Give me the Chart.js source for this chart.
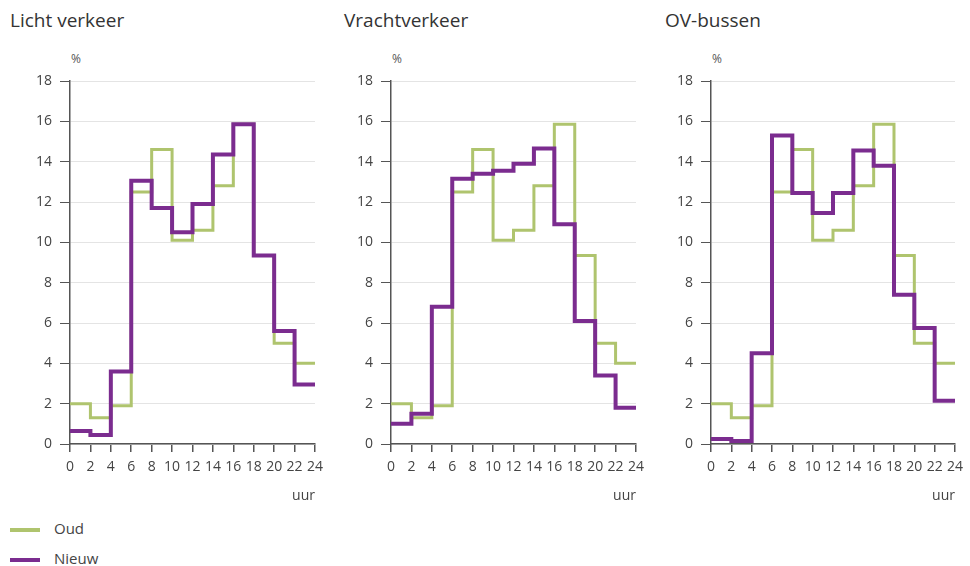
<!DOCTYPE html>
<html>
<head>
<meta charset="utf-8">
<script src="https://cdn.jsdelivr.net/npm/chart.js@4"></script>
<style>
    body { margin: 0; background: #fff; width: 970px; height: 566px; position: relative; overflow: hidden; font-family: 'Open Sans', sans-serif; color: #333; }
    canvas { position: absolute; top: 60px; }
    .titel { position: absolute; top: 7px; font-size: 19px; color: #333; }
    .pct { position: absolute; top: 50px; font-size: 12px; color: #555; }
    .leg { position: absolute; left: 10px; font-size: 15px; color: #444; }
    .leg span { display: inline-block; width: 30px; height: 4px; vertical-align: middle; margin-right: 14px; }
</style>
</head>
<body>
<div class="titel" style="left:10px">Licht verkeer</div>
<div class="titel" style="left:344px">Vrachtverkeer</div>
<div class="titel" style="left:665px">OV-bussen</div>
<div class="pct" style="left:71px">%</div>
<div class="pct" style="left:392px">%</div>
<div class="pct" style="left:712px">%</div>
<canvas id="chart-licht" width="330" height="450" style="left:0px"></canvas>
<canvas id="chart-vracht" width="330" height="450" style="left:321px"></canvas>
<canvas id="chart-ov" width="329" height="450" style="left:641px"></canvas>
<div class="leg" style="top:518px"><span style="background:#afc46e"></span>Oud</div>
<div class="leg" style="top:548px"><span style="background:#7b2c8f"></span>Nieuw</div>

<script>
// uurblokken van 2 uur, 0..24
var uren = [0, 2, 4, 6, 8, 10, 12, 14, 16, 18, 20, 22, 24];

// oude verdeling (zelfde in alle drie grafieken)
var oud = [2.0, 1.3, 1.9, 12.5, 14.6, 10.1, 10.6, 12.8, 15.85, 9.35, 5.0, 4.0];

// nieuwe verdelingen
var lichtNieuw = [0.65, 0.45, 3.6, 13.05, 11.7, 10.5, 11.9, 14.35, 15.85, 9.35, 5.6, 2.95];
var vrachtNieuw = [1.0, 1.5, 6.8, 13.15, 13.4, 13.55, 13.9, 14.65, 10.9, 6.1, 3.4, 1.8];
var ovNieuw = [0.25, 0.15, 4.5, 15.3, 12.45, 11.45, 12.45, 14.55, 13.8, 7.4, 5.75, 2.15];

var groen = '#afc46e';
var paars = '#7b2c8f';
var tekstKleur = '#444';
var asKleur = '#555';

// trapjes: elk blok loopt van uren[i] tot uren[i+1]
// punt i+1 krijgt de waarde van blok i
function maakPunten(waarden) {
    var punten = [{x: uren[0], y: waarden[0]}];
    waarden.forEach(function (v, i) {
        punten.push({x: uren[i + 1], y: v});
    });
    return punten;
}

function maakGrafiek(id, nieuw, rechts) {
    var ctx = document.getElementById(id);
    return new Chart(ctx, {
        type: 'line',
        data: {
            datasets: [
                {
                    label: 'Nieuw',
                    data: maakPunten(nieuw),
                    borderColor: paars,
                    borderWidth: 4,
                    stepped: 'after',
                    pointRadius: 0,
                    borderJoinStyle: 'miter',
                    order: 0
                },
                {
                    label: 'Oud',
                    data: maakPunten(oud),
                    borderColor: groen,
                    borderWidth: 3,
                    stepped: 'after',
                    pointRadius: 0,
                    borderJoinStyle: 'miter',
                    order: 1
                }
            ]
        },
        options: {
            responsive: false,
            maintainAspectRatio: false,
            animation: false,
            layout: {padding: {top: 21, bottom: 6, left: 0, right: rechts}},
            plugins: {legend: {display: false}, tooltip: {enabled: false}},
            scales: {
                x: {
                    type: 'linear',
                    min: 0,
                    max: 24,
                    ticks: {
                        stepSize: 2,
                        autoSkip: false,
                        maxRotation: 0,
                        padding: 7,
                        color: tekstKleur,
                        font: {family: 'Open Sans', size: 14}
                    },
                    grid: {drawOnChartArea: false, tickLength: 8, tickColor: asKleur, lineWidth: 1.5},
                    border: {color: asKleur, width: 1.5},
                    title: {
                        display: true,
                        text: 'uur',
                        align: 'end',
                        color: tekstKleur,
                        font: {family: 'Open Sans', size: 14},
                        padding: {top: 9, bottom: 0}
                    },
                    afterFit: function (s) { s.height = 60; }
                },
                y: {
                    min: 0,
                    max: 18,
                    ticks: {
                        stepSize: 2,
                        padding: 8,
                        color: tekstKleur,
                        font: {family: 'Open Sans', size: 14}
                    },
                    grid: {color: '#e4e4e4', tickColor: asKleur, tickLength: 10, lineWidth: 1},
                    border: {color: asKleur, width: 1.5},
                    afterFit: function (s) { s.width = 70; }
                }
            }
        }
    });
}

maakGrafiek('chart-licht', lichtNieuw, 10);
maakGrafiek('chart-vracht', vrachtNieuw, 10);
maakGrafiek('chart-ov', ovNieuw, 9);
</script>
</body>
</html>
